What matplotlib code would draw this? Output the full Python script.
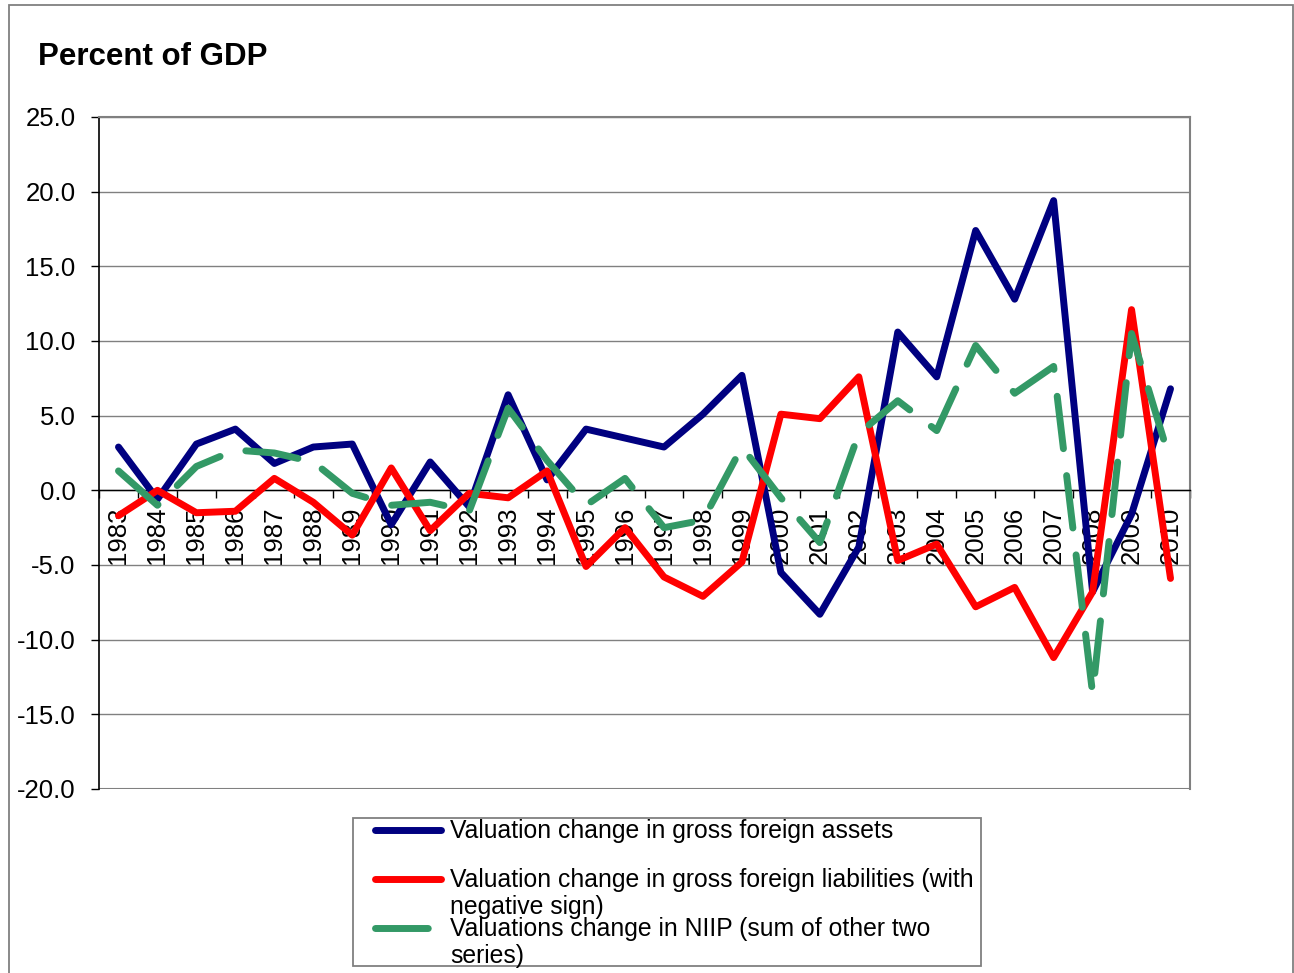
import numpy as np
import matplotlib
matplotlib.use("Agg")
import matplotlib.pyplot as plt
from matplotlib.patches import Rectangle
from matplotlib.lines import Line2D

plt.rcParams['font.family'] = ['Liberation Sans', 'DejaVu Sans']

years = [str(y) for y in range(1983, 2011)]
assets = [2.9, -0.6, 3.1, 4.1, 1.8, 2.9, 3.1, -2.3, 1.9, -1.1, 6.4, 0.7, 4.1, 3.5,
          2.9, 5.1, 7.7, -5.5, -8.3, -3.8, 10.6, 7.6, 17.4, 12.8, 19.4, -6.8, -1.6, 6.8]
liabilities = [-1.7, 0.0, -1.5, -1.4, 0.8, -0.8, -3.0, 1.5, -2.7, -0.2, -0.5, 1.3, -5.1, -2.5,
               -5.8, -7.1, -4.8, 5.1, 4.8, 7.6, -4.7, -3.6, -7.8, -6.5, -11.2, -6.8, 12.1, -5.9]
niip = [1.3, -1.0, 1.6, 2.7, 2.5, 1.9, -0.2, -1.0, -0.8, -1.4, 5.5, 2.0, -1.0, 0.8,
        -2.5, -2.0, 2.9, -0.5, -3.5, 3.8, 6.0, 4.0, 9.7, 6.5, 8.3, -13.6, 10.5, 1.9]

labels = ["Valuation change in gross foreign assets",
          "Valuation change in gross foreign liabilities (with\nnegative sign)",
          "Valuations change in NIIP (sum of other two\nseries)"]
colors = ["#000080", "#FF0000", "#339966"]
title = "Percent of GDP"
yticks = [25.0, 20.0, 15.0, 10.0, 5.0, 0.0, -5.0, -10.0, -15.0, -20.0]

W, H = 1294, 973
fig = plt.figure(figsize=(W / 100, H / 100), dpi=100)

def fx(px):
    return px / W

def fy(py):
    return 1 - py / H

ax = fig.add_axes([fx(99), fy(789), fx(1190) - fx(99), fy(117) - fy(789)])
x = np.arange(len(years))
lw = 5.0
dash = (7.6, 3.9)
ax.plot(x, assets, color=colors[0], lw=lw, solid_capstyle='round', solid_joinstyle='round', zorder=3)
ax.plot(x, liabilities, color=colors[1], lw=lw, solid_capstyle='round', solid_joinstyle='round', zorder=3)
ax.plot(x, niip, color=colors[2], lw=lw, dashes=dash, dash_capstyle='round',
        dash_joinstyle='round', zorder=3)

ax.set_xlim(-0.5, len(years) - 0.5)
ax.set_ylim(-20, 25)
ax.set_axisbelow(True)

ax.set_yticks(yticks)
ax.set_yticklabels([f"{v:.1f}" for v in yticks], fontsize=18.5)
ax.tick_params(axis='y', direction='out', length=6, width=1, pad=11, color='black')
ax.grid(axis='y', color='#808080', lw=1.0)

ax.spines['bottom'].set_position(('data', 0))
ax.spines['bottom'].set_color('black')
ax.spines['bottom'].set_linewidth(1.0)
ax.spines['left'].set_color('black')
ax.spines['left'].set_linewidth(1.2)
for s in ['top', 'right']:
    ax.spines[s].set_color('#808080')
    ax.spines[s].set_linewidth(1.5)

ax.set_xticks(np.arange(-0.5, len(years), 1.0))
ax.set_xticklabels([])
ax.tick_params(axis='x', which='major', direction='out', length=6, width=1, color='black')
ax.set_xticks(x, minor=True)
ax.set_xticklabels(years, minor=True, rotation=90, fontsize=18.5)
ax.tick_params(axis='x', which='minor', length=0, pad=12)

# bottom frame line at -20 (grey)
ax.axhline(-20, color='#808080', lw=1.5, zorder=1)

# title
fig.text(fx(38), fy(65), title, fontsize=22.5, fontweight='bold', ha='left', va='baseline')

# outer border
fig.patches.append(Rectangle((fx(9), -0.01), fx(1293) - fx(9), fy(5) + 0.01,
                             transform=fig.transFigure, fill=False, ec='#808080', lw=1.3))

# legend box
fig.patches.append(Rectangle((fx(353), fy(966)), fx(981) - fx(353), fy(818) - fy(966),
                             transform=fig.transFigure, fill=False, ec='#808080', lw=1.3))
leg_y = [830, 879, 928]
for i in range(3):
    if i < 2:
        ln = Line2D([fx(375), fx(441)], [fy(leg_y[i])] * 2, transform=fig.transFigure,
                    color=colors[i], lw=lw, solid_capstyle='round')
    else:
        ln = Line2D([fx(375), fx(441)], [fy(leg_y[i])] * 2, transform=fig.transFigure,
                    color=colors[i], lw=lw, dashes=dash, dash_capstyle='round')
    fig.lines.append(ln)
    parts = labels[i].split("\n")
    for j, p in enumerate(parts):
        fig.text(fx(450), fy(leg_y[i] + 27 * j + 1), p, fontsize=17.8, ha='left', va='center')

fig.savefig("out.png", dpi=100)
